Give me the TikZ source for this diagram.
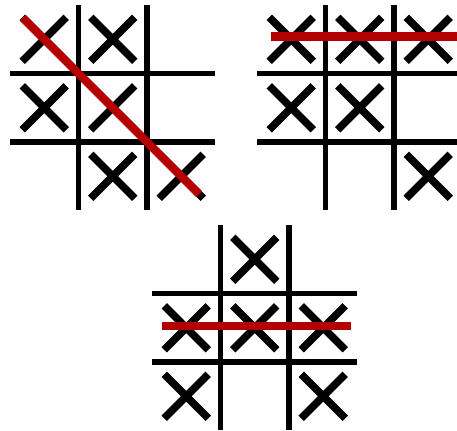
\documentclass[tikz,border=0pt]{standalone}
\usepackage{tikz}
\definecolor{winred}{HTML}{B30000}
\tikzset{
  gridline/.style={line width=4.4pt,black},
  crossline/.style={line width=5.6pt,black},
  winline/.style={line width=6.3pt,winred}
}

\begin{document}
\begin{tikzpicture}[x=0.75pt,y=-0.75pt]
  \useasboundingbox (0,0) rectangle (457,430);
  % board 1: diagonal win
  \begin{scope}[shift={(10,5)}]
    \draw[gridline] (68.5,0)--(68.5,205) (137,0)--(137,205);
    \draw[gridline] (0,68.5)--(205,68.5) (0,137)--(205,137);
    \foreach \c/\r [evaluate=\c as \cx using 68.5*\c+34.25,
                    evaluate=\r as \cy using 68.5*\r+34.25] in {0/0,1/0,0/1,1/1,1/2,2/2}
      \draw[crossline] (\cx-22,\cy-22)--(\cx+22,\cy+22) (\cx-22,\cy+22)--(\cx+22,\cy-22);
    \draw[winline] (12.8,12.8)--(189.2,189.2);
  \end{scope}
  % board 2: top row win
  \begin{scope}[shift={(257,5)}]
    \draw[gridline] (68.5,0)--(68.5,205) (137,0)--(137,205);
    \draw[gridline] (0,68.5)--(205,68.5) (0,137)--(205,137);
    \foreach \c/\r [evaluate=\c as \cx using 68.5*\c+34.25,
                    evaluate=\r as \cy using 68.5*\r+34.25] in {0/0,1/0,2/0,0/1,1/1,2/2}
      \draw[crossline] (\cx-22,\cy-22)--(\cx+22,\cy+22) (\cx-22,\cy+22)--(\cx+22,\cy-22);
    \draw[winline] (14,31.5)--(210,31.5);
  \end{scope}
  % board 3: middle row win
  \begin{scope}[shift={(152,225)}]
    \draw[gridline] (68.5,0)--(68.5,205) (137,0)--(137,205);
    \draw[gridline] (0,68.5)--(205,68.5) (0,137)--(205,137);
    \foreach \c/\r [evaluate=\c as \cx using 68.5*\c+34.25,
                    evaluate=\r as \cy using 68.5*\r+34.25] in {1/0,0/1,1/1,2/1,0/2,2/2}
      \draw[crossline] (\cx-22,\cy-22)--(\cx+22,\cy+22) (\cx-22,\cy+22)--(\cx+22,\cy-22);
    \draw[winline] (10,101)--(199,101);
  \end{scope}
\end{tikzpicture}
\end{document}
